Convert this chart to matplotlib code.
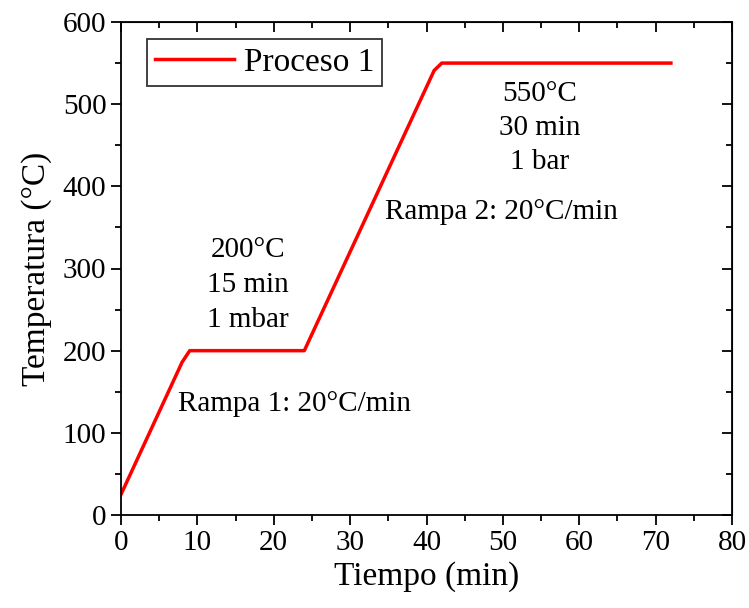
import matplotlib.pyplot as plt
from matplotlib.ticker import MultipleLocator

# Datos del proceso (tiempo en min, temperatura en °C)
tiempo = [0, 8, 9, 24, 41, 42, 72]
temperatura = [25, 186, 200, 200, 541, 550, 550]

plt.rcParams['font.family'] = ['Liberation Serif', 'DejaVu Serif']

fig = plt.figure(figsize=(7.49, 6.08), dpi=100)
ax = fig.add_axes([121 / 749, 1 - 515 / 608, (732 - 121) / 749, (515 - 22) / 608])

ax.plot(tiempo, temperatura, color='red', lw=2.5, label='Proceso 1')

ax.set_xlim(0, 80)
ax.set_ylim(0, 600)
ax.xaxis.set_major_locator(MultipleLocator(10))
ax.xaxis.set_minor_locator(MultipleLocator(5))
ax.yaxis.set_major_locator(MultipleLocator(100))
ax.yaxis.set_minor_locator(MultipleLocator(50))
ax.tick_params(which='both', direction='out', labelsize=21, width=1.3)
ax.tick_params(which='major', length=7)
ax.tick_params(which='minor', length=4)
for s in ax.spines.values():
    s.set_linewidth(1.3)

# ticks interiores en los ejes superior y derecho
axt = ax.secondary_xaxis('top')
axt.xaxis.set_major_locator(MultipleLocator(10))
axt.xaxis.set_minor_locator(MultipleLocator(5))
axt.tick_params(which='both', direction='in', labeltop=False, width=1.3)
axt.tick_params(which='major', length=7)
axt.tick_params(which='minor', length=4)
axr = ax.secondary_yaxis('right')
axr.yaxis.set_major_locator(MultipleLocator(100))
axr.yaxis.set_minor_locator(MultipleLocator(50))
axr.tick_params(which='both', direction='in', labelright=False, width=1.3)
axr.tick_params(which='major', length=7)
axr.tick_params(which='minor', length=4)

ax.set_xlabel('Tiempo (min)', fontsize=24, labelpad=4)
ax.set_ylabel('Temperatura (°C)', fontsize=24, labelpad=8)

ax.text(16.6, 280, '200°C\n15 min\n1 mbar', ha='center', va='center', fontsize=21, linespacing=1.45)
ax.text(7.5, 135, 'Rampa 1: 20°C/min', ha='left', va='center', fontsize=21)
ax.text(54.8, 471, '550°C\n30 min\n1 bar', ha='center', va='center', fontsize=21, linespacing=1.4)
ax.text(34.6, 369, 'Rampa 2: 20°C/min', ha='left', va='center', fontsize=21)

leg = ax.legend(loc='upper left', bbox_to_anchor=(0.0426, 0.9655), borderaxespad=0,
                fontsize=24, frameon=True, fancybox=False, edgecolor='black',
                handlelength=2.35, borderpad=0.25, handletextpad=0.3)
leg.get_frame().set_linewidth(1.3)

fig.savefig('out.png', dpi=100)
